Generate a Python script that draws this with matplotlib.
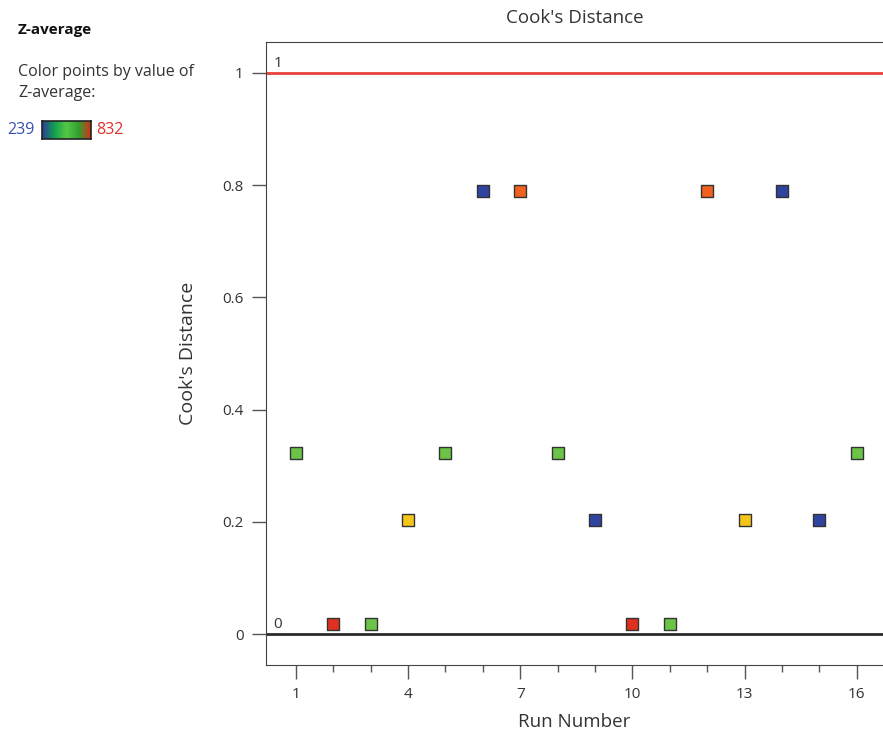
import matplotlib.pyplot as plt
import numpy as np
from matplotlib.colors import LinearSegmentedColormap

plt.rcParams['font.family'] = ['Open Sans', 'DejaVu Sans']

# Cook's distance per run
runs = list(range(1, 17))
cooks = [0.323, 0.018, 0.018, 0.204, 0.323, 0.790, 0.790, 0.323,
         0.204, 0.018, 0.018, 0.790, 0.204, 0.790, 0.204, 0.323]
point_colors = ['#6cc447', '#e0301e', '#6cc447', '#f5c518', '#6cc447', '#2e44a0',
                '#f0601f', '#6cc447', '#2e44a0', '#e0301e', '#6cc447', '#f0601f',
                '#f5c518', '#2e44a0', '#2e44a0', '#6cc447']
z_min, z_max = 239, 832
x_ticks = [1, 4, 7, 10, 13, 16]
y_ticks = [0, 0.2, 0.4, 0.6, 0.8, 1]

fig = plt.figure(figsize=(8.83, 7.33), dpi=100)
ax = fig.add_axes([0.3012, 0.0928, 0.6988, 0.8499])

ax.axhline(1, color='#e8413a', lw=2, zorder=2)
ax.axhline(0, color='#2a2a2a', lw=2, zorder=2)
ax.text(0.4, 1.003, '1', fontsize=11, color='#333333', va='bottom')
ax.text(0.4, 0.003, '0', fontsize=11, color='#333333', va='bottom')

ax.scatter(runs, cooks, marker='s', s=75, c=point_colors,
           edgecolors='#333333', linewidths=1, zorder=3)

ax.set_xlim(0.2, 16.7)
ax.set_ylim(-0.055, 1.055)
ax.set_xticks(x_ticks)
ax.set_xticks(runs, minor=True)
ax.set_yticks(y_ticks)
ax.set_yticklabels(['0', '0.2', '0.4', '0.6', '0.8', '1'])
ax.tick_params(axis='both', which='major', length=10, width=1, color='#555555',
               labelcolor='#333333', labelsize=11, pad=6)
ax.tick_params(axis='x', which='minor', length=5, width=1, color='#555555')
ax.spines['right'].set_visible(False)
for s in ['left', 'top', 'bottom']:
    ax.spines[s].set_color('#444444')

ax.set_xlabel('Run Number', fontsize=13.5, color='#333333', labelpad=8)
ax.set_ylabel("Cook's Distance", fontsize=14, color='#333333', labelpad=18)
ax.set_title("Cook's Distance", fontsize=13.5, color='#333333', pad=14)

# side legend
fig.text(18 / 883, 1 - 30 / 733, 'Z-average', fontsize=11, fontweight='bold',
         color='#111111', va='center')
fig.text(18 / 883, 1 - 72 / 733, 'Color points by value of', fontsize=11.5,
         color='#333333', va='center')
fig.text(18 / 883, 1 - 93 / 733, 'Z-average:', fontsize=11.5,
         color='#333333', va='center')

cmap = LinearSegmentedColormap.from_list(
    'zavg', ['#2b3d9b', '#12a050', '#55c845', '#30a030', '#d4301a'])
cax = fig.add_axes([42 / 883, 1 - 139 / 733, 49 / 883, 18 / 733])
cax.imshow(np.linspace(0, 1, 100)[None, :], aspect='auto', cmap=cmap)
cax.set_xticks([])
cax.set_yticks([])
for s in cax.spines.values():
    s.set_color('#222222')
    s.set_linewidth(1.2)
fig.text(35 / 883, 1 - 130 / 733, str(z_min), fontsize=11.5, color='#3a50b0',
         ha='right', va='center')
fig.text(96 / 883, 1 - 130 / 733, str(z_max), fontsize=11.5, color='#e0302a',
         ha='left', va='center')

fig.savefig('out.png', dpi=100)
